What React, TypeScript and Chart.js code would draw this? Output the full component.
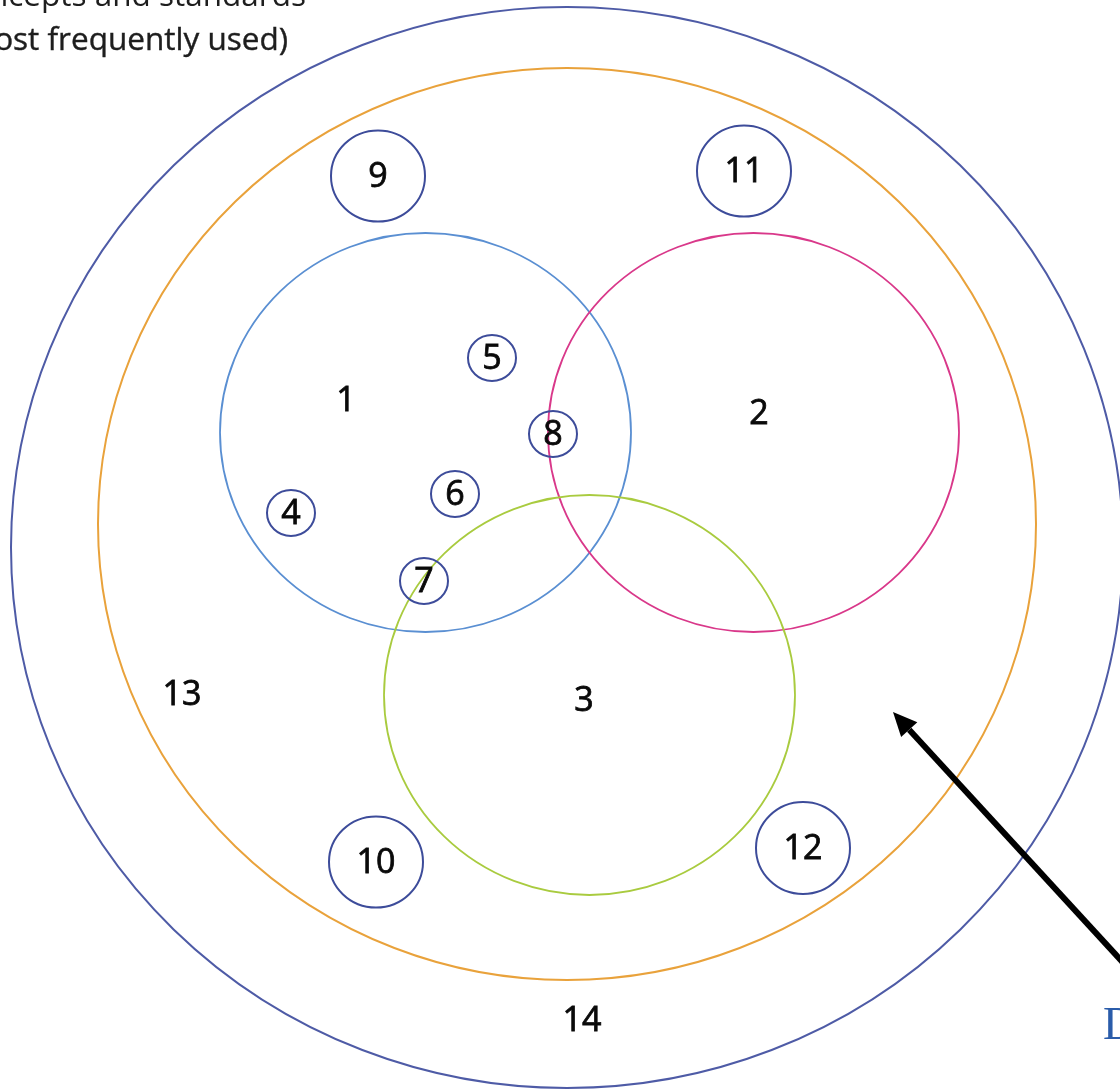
import { useEffect, useRef } from "react";
import { Chart, registerables } from "chart.js";

Chart.register(...registerables);

const W = 1120;
const H = 1090;

// Enclosing rings (outer = "14" region, inner = "13" region)
const ringLabels = ["14", "13"];
const ringCx = [567, 567];
const ringCy = [547.5, 524];
const ringRx = [556, 469];
const ringRy = [540.5, 456];
const ringColors = ["#4E5BA6", "#E9A23B"];
const ringLabelX = [582, 182];
const ringLabelY = [1020, 694];

// Three overlapping sets
const setLabels = ["1", "2", "3"];
const setCx = [425.5, 753.5, 589.5];
const setCy = [432.5, 432.5, 695];
const setRx = [205.5, 205.5, 205.5];
const setRy = [199.5, 199.5, 200];
const setColors = ["#5A8FD2", "#D9388A", "#A9CB3F"];
const setLabelX = [346, 759, 584];
const setLabelY = [400, 413, 700];

// Single items (circled numbers)
const itemLabels = ["4", "5", "6", "7", "8", "9", "10", "11", "12"];
const itemX = [291, 492, 455, 424, 553, 378, 376, 744, 803];
const itemY = [513, 358, 494, 581, 434, 176, 862, 171, 848];
const itemR = [24, 24, 24, 24, 24, 47, 47, 47, 47];
const itemRy = [23, 23, 23, 23, 23, 45.5, 45.5, 45.5, 46];

// Annotation arrow (start -> tip)
const arrowX = [1128, 893];
const arrowY = [968, 712];

const titleLines = ["Concepts and standards", "(most frequently used)"];

const diagramPlugin = {
  id: "venn",
  afterDatasetsDraw(chart: any) {
    const ctx: CanvasRenderingContext2D = chart.ctx;
    const xs = chart.scales.x;
    const ys = chart.scales.y;
    const px = (v: number) => xs.getPixelForValue(v);
    const py = (v: number) => ys.getPixelForValue(v);
    const dx = (v: number) => Math.abs(xs.getPixelForValue(v) - xs.getPixelForValue(0));
    const dy = (v: number) => Math.abs(ys.getPixelForValue(v) - ys.getPixelForValue(0));

    const ellipse = (cx: number, cy: number, rx: number, ry: number, color: string, lw: number) => {
      ctx.beginPath();
      ctx.ellipse(px(cx), py(cy), dx(rx), dy(ry), 0, 0, Math.PI * 2);
      ctx.strokeStyle = color;
      ctx.lineWidth = lw;
      ctx.stroke();
    };
    const digitFont = "34px 'Open Sans', 'Noto Sans', sans-serif";
    const text = (t: string, x: number, y: number) => {
      ctx.font = digitFont;
      ctx.fillStyle = "#0A0A0A";
      ctx.strokeStyle = "#0A0A0A";
      ctx.lineWidth = 0.8;
      ctx.textAlign = "center";
      ctx.textBaseline = "middle";
      ctx.fillText(t, px(x), py(y) + 1);
      ctx.strokeText(t, px(x), py(y) + 1);
    };

    ctx.save();
    ringLabels.forEach((_, i) => ellipse(ringCx[i], ringCy[i], ringRx[i], ringRy[i], ringColors[i], 2));
    setLabels.forEach((_, i) => ellipse(setCx[i], setCy[i], setRx[i], setRy[i], setColors[i], 1.8));
    itemLabels.forEach((_, i) => ellipse(itemX[i], itemY[i], itemR[i], itemRy[i], "#3D4C9A", 2));

    ringLabels.forEach((l, i) => text(l, ringLabelX[i], ringLabelY[i]));
    setLabels.forEach((l, i) => text(l, setLabelX[i], setLabelY[i]));
    itemLabels.forEach((l, i) => text(l, itemX[i], itemY[i]));

    // Title (cropped at top-left)
    ctx.font = "31.5px 'Open Sans', 'Noto Sans', sans-serif";
    ctx.fillStyle = "#1E1E1E";
    ctx.strokeStyle = "#1E1E1E";
    ctx.lineWidth = 0.4;
    ctx.textAlign = "right";
    ctx.textBaseline = "alphabetic";
    ctx.fillText(titleLines[0], px(306), py(6));
    ctx.fillText(titleLines[1], px(288), py(50));
    ctx.strokeText(titleLines[1], px(288), py(50));

    // Arrow
    const x0 = px(arrowX[0]), y0 = py(arrowY[0]);
    const x1 = px(arrowX[1]), y1 = py(arrowY[1]);
    const ang = Math.atan2(y1 - y0, x1 - x0);
    const headLen = 24, headW = 11;
    const bx = x1 - headLen * Math.cos(ang), by = y1 - headLen * Math.sin(ang);
    ctx.beginPath();
    ctx.moveTo(x0, y0);
    ctx.lineTo(bx, by);
    ctx.strokeStyle = "#000000";
    ctx.lineWidth = 6;
    ctx.stroke();
    ctx.beginPath();
    ctx.moveTo(x1, y1);
    ctx.lineTo(bx + headW * Math.sin(ang), by - headW * Math.cos(ang));
    ctx.lineTo(bx - headW * Math.sin(ang), by + headW * Math.cos(ang));
    ctx.closePath();
    ctx.fillStyle = "#000000";
    ctx.fill();

    // Cropped label at right edge
    ctx.font = "46px 'Liberation Serif', 'DejaVu Serif', serif";
    ctx.fillStyle = "#2A5CAA";
    ctx.textAlign = "left";
    ctx.textBaseline = "alphabetic";
    ctx.fillText("D", px(1103), py(1039));
    ctx.restore();
  },
};

export default function App() {
  const ref = useRef<HTMLCanvasElement | null>(null);
  useEffect(() => {
    if (!ref.current) return;
    const chart = new Chart(ref.current, {
      type: "scatter",
      data: {
        datasets: [
          {
            data: itemLabels.map((_, i) => ({ x: itemX[i], y: itemY[i] })),
            pointRadius: 0,
            showLine: false,
          },
        ],
      },
      options: {
        animation: false,
        responsive: false,
        events: [],
        layout: { padding: 0 },
        plugins: { legend: { display: false }, tooltip: { enabled: false } },
        scales: {
          x: { type: "linear", min: 0, max: W, display: false },
          y: { type: "linear", min: 0, max: H, reverse: true, display: false },
        },
      },
      plugins: [diagramPlugin],
    });
    return () => chart.destroy();
  }, []);
  return (
    <div style={{ position: "absolute", left: 0, top: 0, width: W, height: H, background: "#ffffff" }}>
      <canvas ref={ref} width={W} height={H} style={{ width: W, height: H, display: "block" }} />
    </div>
  );
}
